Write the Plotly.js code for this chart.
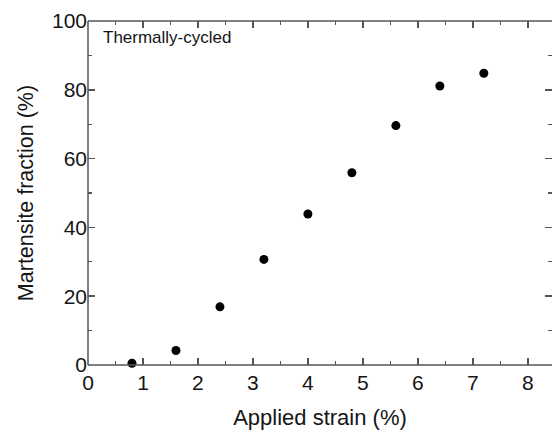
<!DOCTYPE html>
<html>
<head>
<meta charset="utf-8">
<script src="https://cdn.plot.ly/plotly-3.0.1.min.js"></script>
<style>
html, body { margin: 0; padding: 0; overflow: hidden; background: #fff; }
#chart { width: 553px; height: 432px; }
</style>
</head>
<body>
<div id="chart"></div>
<script>
const strain = [0.8, 1.6, 2.4, 3.2, 4.0, 4.8, 5.6, 6.4, 7.2];
const martensite = [0.5, 4.2, 16.9, 30.7, 43.9, 55.9, 69.6, 81.1, 84.8];
const xTicks = [0, 1, 2, 3, 4, 5, 6, 7, 8];
const yTicks = [0, 20, 40, 60, 80, 100];

const FONT = 'Liberation Sans, Arial, sans-serif';
const LINE = '#555';

const axisCommon = {
  showline: false,
  mirror: 'ticks',
  ticks: 'inside',
  ticklen: 7,
  tickwidth: 1.5,
  tickcolor: LINE,
  showgrid: false,
  zeroline: false,
  tickfont: { family: FONT, size: 21, color: '#151515' },
  minor: { ticks: 'inside', ticklen: 4, tickwidth: 1.2, tickcolor: LINE, showgrid: false }
};

const trace = {
  x: strain,
  y: martensite,
  type: 'scatter',
  mode: 'markers',
  marker: { color: '#000', size: 9 },
  cliponaxis: false,
  hoverinfo: 'none'
};

const layout = {
  width: 553,
  height: 432,
  margin: { l: 88, r: 1, t: 21, b: 67 },
  paper_bgcolor: '#fff',
  plot_bgcolor: '#fff',
  showlegend: false,
  xaxis: Object.assign({}, axisCommon, {
    range: [0, 8.44],
    tickvals: xTicks,
    ticktext: xTicks.map(String),
    ticklabelstandoff: 3,
    minor: Object.assign({}, axisCommon.minor, { dtick: 0.5, tick0: 0 }),
    title: { text: 'Applied strain (%)', font: { family: FONT, size: 22, color: '#151515' }, standoff: 16 }
  }),
  yaxis: Object.assign({}, axisCommon, {
    range: [0, 100],
    tickvals: yTicks,
    ticktext: yTicks.map(String),
    minor: Object.assign({}, axisCommon.minor, { dtick: 10, tick0: 0 }),
    title: { text: 'Martensite fraction (%)', font: { family: FONT, size: 21.5, color: '#151515' }, standoff: 12 }
  }),
  shapes: [
    { type: 'line', xref: 'paper', yref: 'paper', x0: 0, x1: 0, y0: 0, y1: 1, line: { color: LINE, width: 1.5 } },
    { type: 'line', xref: 'paper', yref: 'paper', x0: 0, x1: 1, y0: 0, y1: 0, line: { color: LINE, width: 1.5 } },
    { type: 'line', xref: 'paper', yref: 'paper', x0: 0, x1: 1, y0: 1, y1: 1, line: { color: LINE, width: 1.5 } }
  ],
  annotations: [{
    text: 'Thermally-cycled',
    xref: 'paper', yref: 'paper',
    x: 0.028, y: 0.985,
    xanchor: 'left', yanchor: 'top',
    showarrow: false,
    font: { family: FONT, size: 17, color: '#151515' }
  }]
};

Plotly.newPlot('chart', [trace], layout, { staticPlot: true, displayModeBar: false });
</script>
</body>
</html>
